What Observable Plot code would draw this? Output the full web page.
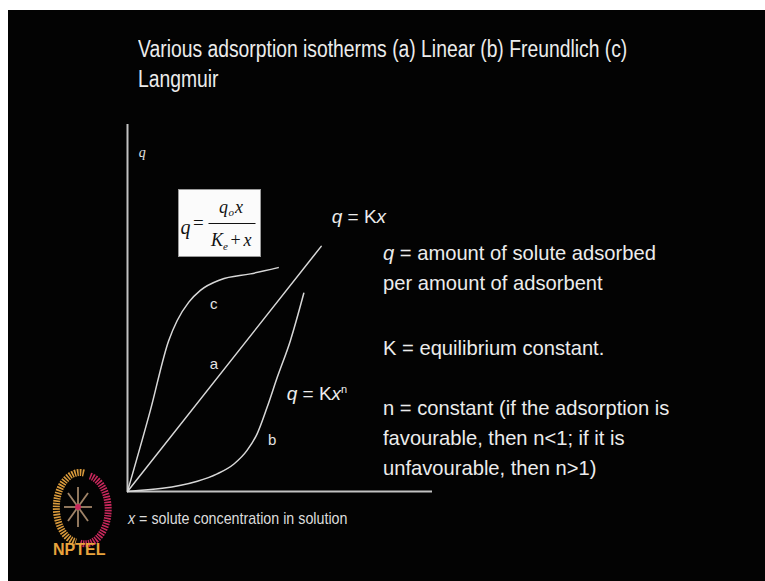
<!DOCTYPE html>
<html>
<head>
<meta charset="utf-8">
<script src="https://cdn.jsdelivr.net/npm/d3@7"></script>
<script src="https://cdn.jsdelivr.net/npm/@observablehq/plot@0.6"></script>
<style>
  html, body { margin: 0; padding: 0; background: #ffffff; }
  body { width: 765px; height: 581px; position: relative; overflow: hidden; font-family: "Liberation Sans", Arial, sans-serif; }
  #slide { position: absolute; left: 8px; top: 10px; width: 757px; height: 571px; background: #030303; }
  #chart { position: absolute; left: 0; top: 0; }
  .t { position: absolute; color: #ececec; white-space: nowrap; transform-origin: 0 0; line-height: 1; }
  .title { font-size: 23px; line-height: 30px; transform: scaleX(0.84); }
  .side { font-size: 21px; transform: scaleX(0.96); }
  .xlab { font-size: 17px; transform: scaleX(0.84); color: #dcdcdc; }
  .eq { font-size: 19px; }
  #box { position: absolute; left: 178px; top: 189px; width: 83px; height: 68px; background: #fbfbfb; box-sizing: border-box; border: 1px solid #9a9a9a; }
  #logo { position: absolute; left: 40px; top: 465px; }
</style>
</head>
<body>
<div id="slide"></div>
<div id="chart"></div>

<div class="t title" style="left:138px; top:33.7px;">Various adsorption isotherms (a) Linear (b) Freundlich (c)<br>Langmuir</div>

<div class="t side" style="left:383px; top:242.2px;"><i>q</i> = amount of solute adsorbed</div>
<div class="t side" style="left:383px; top:272.2px;">per amount of adsorbent</div>
<div class="t side" style="left:383px; top:337.2px;">K = equilibrium constant.</div>
<div class="t side" style="left:383px; top:397.2px;">n = constant (if the adsorption is</div>
<div class="t side" style="left:383px; top:427.2px;">favourable, then n&lt;1; if it is</div>
<div class="t side" style="left:383px; top:457.2px;">unfavourable, then n&gt;1)</div>

<div class="t xlab" style="left:128px; top:509.6px;"><i>x</i> = solute concentration in solution</div>

<div class="t eq" style="left:331.7px; top:207.2px;"><i>q</i> = K<i>x</i></div>
<div class="t eq" style="left:286.7px; top:383.9px;"><i>q</i> = K<i>x</i><sup style="font-size:11px; vertical-align:7px;">n</sup></div>

<div id="box">
  <svg width="81" height="66" style="position:absolute;left:0;top:0" font-family="'Liberation Serif', 'Times New Roman', serif" font-style="italic" fill="#111">
    <text x="1.5" y="44" font-size="20">q</text>
    <text x="14" y="39" font-size="19" font-style="normal">=</text>
    <line x1="29.5" x2="76.5" y1="33.5" y2="33.5" stroke="#111" stroke-width="1.2"/>
    <text x="40" y="22.5" font-size="18">q</text>
    <text x="49.5" y="26" font-size="11">o</text>
    <text x="56" y="22.5" font-size="18">x</text>
    <text x="32" y="56" font-size="18">K</text>
    <text x="44" y="59.5" font-size="11">e</text>
    <text x="51.5" y="56" font-size="18" font-style="normal">+</text>
    <text x="64.5" y="56" font-size="18">x</text>
  </svg>
</div>

<svg id="logo" width="80" height="100">
  <g fill="none" stroke-width="7" stroke-dasharray="1.6 1.1">
    <path d="M44,8 A23,34 0 0 0 36,77" stroke="#d99a3c"/>
    <path d="M50,11 A23,34 0 0 1 40,78" stroke="#c9285c"/>
  </g>
  <g stroke="#a08468" stroke-width="1.8" fill="none">
    <line x1="38" y1="22" x2="38" y2="62"/>
    <line x1="24" y1="42" x2="52" y2="42"/>
    <line x1="28" y1="28" x2="48" y2="56"/>
    <line x1="48" y1="28" x2="28" y2="56"/>
  </g>
  <circle cx="38" cy="42" r="3" fill="#c9285c"/>
  <text x="13" y="90" font-family="'Liberation Sans', Arial, sans-serif" font-weight="bold" font-size="16" fill="#e8a33d">NPTEL</text>
</svg>

<script>
// Isotherm curves: solute concentration x (0–100, arbitrary units) vs adsorbed amount q (0–100)
const linearX = [0, 63.5];
const linearQ = [0, 66.8];

const freundlichX = [0, 22.9, 29.4, 34.9, 39.2, 42.5, 45.8, 49.1, 53.4, 57.8];
const freundlichQ = [0, 2.8, 4.8, 7.5, 11.2, 15.7, 23.0, 31.1, 41.1, 54.0];

const langmuirX = [0, 7.5, 13.5, 16.3, 20.1, 23.9, 30.5, 40.3, 49.4];
const langmuirQ = [0, 22.1, 41.1, 46.6, 51.6, 54.8, 57.7, 59.3, 61.0];

const curveNames = ["a", "b", "c"];

const toRows = (xs, qs) => xs.map((x, i) => ({x, q: qs[i]}));
const linear = toRows(linearX, linearQ);
const freundlich = toRows(freundlichX, freundlichQ);
const langmuir = toRows(langmuirX, langmuirQ);

// where each curve's letter sits, in data units
const curveLabels = [
  {name: curveNames[0], x: 28.3, q: 34.8},
  {name: curveNames[1], x: 47.4, q: 13.9},
  {name: curveNames[2], x: 28.3, q: 51.1}
];

const lineStyle = {x: "x", y: "q", stroke: "#d8d8d8", strokeWidth: 1.5, curve: "monotone-x"};

const chart = Plot.plot({
  width: 765,
  height: 581,
  margin: 0,
  style: {background: "transparent", overflow: "visible"},
  x: {domain: [0, 100], range: [127, 432], axis: null},
  y: {domain: [0, 100], range: [491, 124], axis: null},
  marks: [
    Plot.ruleX([0], {y1: 0, y2: 100, stroke: "#c2c2c2", strokeWidth: 2}),
    Plot.ruleY([0], {x1: 0, x2: 100, stroke: "#c2c2c2", strokeWidth: 2}),
    Plot.line(linear, lineStyle),
    Plot.line(freundlich, lineStyle),
    Plot.line(langmuir, lineStyle),
    Plot.text(curveLabels, {x: "x", y: "q", text: "name", fill: "#e2e2e2", fontSize: 15, fontFamily: "Liberation Sans, Arial, sans-serif"}),
    Plot.text(["q"], {x: 4.8, y: 92.5, text: d => d, fill: "#e2e2e2", fontSize: 14, fontStyle: "italic", fontFamily: "Liberation Serif, Times New Roman, serif"})
  ]
});
document.getElementById("chart").appendChild(chart);
</script>
</body>
</html>
